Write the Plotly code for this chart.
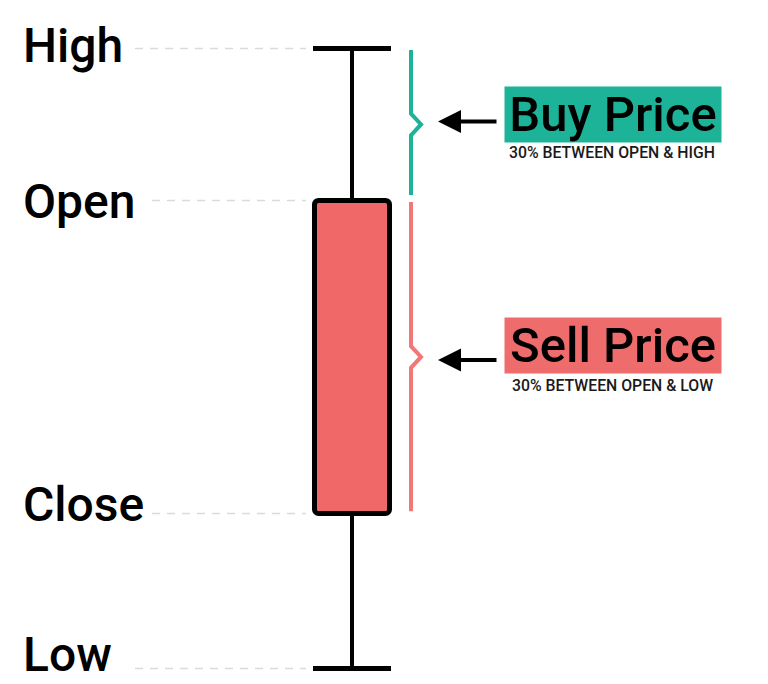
import plotly.graph_objects as go

# ---- data ----
levels = ["High", "Open", "Close", "Low"]
prices = [130.0, 120.2, 100.0, 90.0]          # high, open, close, low
candle_x = [352]
buy_label = "Buy Price"
buy_note = "30% BETWEEN OPEN & HIGH"
sell_label = "Sell Price"
sell_note = "30% BETWEEN OPEN & LOW"

high, open_, close, low = prices

# ---- styles ----
FONT = "Roboto, Liberation Sans, Arial, sans-serif"
TEAL = "#1DB399"
RED_BODY = "#F06868"
RED_BOX = "#EF6C6C"
RED_BRACKET = "#F27878"
GUIDE = "#DADADA"
label_shift = {"High": 3.5, "Open": -1, "Close": 9.5, "Low": 14.5}
guide_start = {"High": 135, "Open": 152, "Close": 152, "Low": 135}

fig = go.Figure()

# dashed guide lines
for name, p in zip(levels, prices):
    fig.add_trace(go.Scatter(
        x=[guide_start[name], 306], y=[p, p], mode="lines",
        line=dict(color=GUIDE, width=1.5, dash="8px,7px"),
        hoverinfo="skip", showlegend=False))

cx = candle_x[0]
body_w = 75
# wick
fig.add_trace(go.Scatter(
    x=[cx, cx, None, cx, cx], y=[high, open_, None, close, low], mode="lines",
    line=dict(color="black", width=4), hoverinfo="skip", showlegend=False))
# caps
fig.add_trace(go.Scatter(
    x=[cx - body_w / 2 - 1.5, cx + body_w / 2 + 1.5, None,
       cx - body_w / 2 - 1.5, cx + body_w / 2 + 1.5],
    y=[high, high, None, low, low], mode="lines",
    line=dict(color="black", width=5), hoverinfo="skip", showlegend=False))
# body
fig.add_trace(go.Bar(
    x=candle_x, y=[open_ - close], base=[close], width=[body_w],
    marker=dict(color=RED_BODY, line=dict(color="black", width=5), cornerradius=4),
    hoverinfo="skip", showlegend=False))

# brackets
bx = 411
tip = 421
buy_mid = (high + open_) / 2
sell_mid = (open_ + close) / 2
d = 0.7
fig.add_trace(go.Scatter(
    x=[bx, bx, tip, bx, bx],
    y=[high - 0.1, buy_mid + d, buy_mid, buy_mid - d, open_ + 0.35],
    mode="lines", line=dict(color=TEAL, width=4),
    hoverinfo="skip", showlegend=False))
fig.add_trace(go.Scatter(
    x=[bx, bx, tip, bx, bx],
    y=[open_ - 0.1, sell_mid + d, sell_mid, sell_mid - d, close + 0.15],
    mode="lines", line=dict(color=RED_BRACKET, width=4),
    hoverinfo="skip", showlegend=False))

annotations = []
# level labels
for name, p in zip(levels, prices):
    annotations.append(dict(
        x=21, y=p, xref="x", yref="y", text=name, showarrow=False,
        xanchor="left", yanchor="middle", yshift=label_shift[name],
        font=dict(family=FONT, size=48, color="black", weight=500)))

# arrows
for mid, ys in [(buy_mid, 3), (sell_mid, -3)]:
    annotations.append(dict(
        x=438, y=mid, ax=498, ay=mid, xref="x", yref="y", axref="x", ayref="y",
        text="", showarrow=True, arrowhead=2, arrowsize=1.15, arrowwidth=4,
        arrowcolor="black", yshift=ys, standoff=0, startstandoff=0))

# price boxes
for mid, txt, col, ys in [(buy_mid, buy_label, TEAL, 10), (sell_mid, sell_label, RED_BOX, 11.5)]:
    annotations.append(dict(
        x=504, y=mid, xref="x", yref="y", text=txt, showarrow=False,
        xanchor="left", yanchor="middle", yshift=ys, width=216, height=55,
        bgcolor=col, borderpad=0, align="center", valign="middle",
        font=dict(family=FONT, size=49, color="black", weight=500)))

for mid, txt, ys in [(buy_mid, buy_note, -28.5), (sell_mid, sell_note, -29)]:
    annotations.append(dict(
        x=612, y=mid, xref="x", yref="y", text=txt, showarrow=False,
        xanchor="center", yanchor="middle", yshift=ys,
        font=dict(family=FONT, size=15.8, color="#1a1a1a", weight=500)))

fig.update_layout(
    width=768, height=684,
    margin=dict(l=0, r=0, t=0, b=0),
    paper_bgcolor="white", plot_bgcolor="white",
    xaxis=dict(range=[0, 768], visible=False, fixedrange=True),
    yaxis=dict(range=[89.0, 133.129], visible=False, fixedrange=True),
    annotations=annotations,
    showlegend=False,
)

fig.write_html("out.html", config={"displayModeBar": False},
               post_script="document.body.style.margin='0';")
